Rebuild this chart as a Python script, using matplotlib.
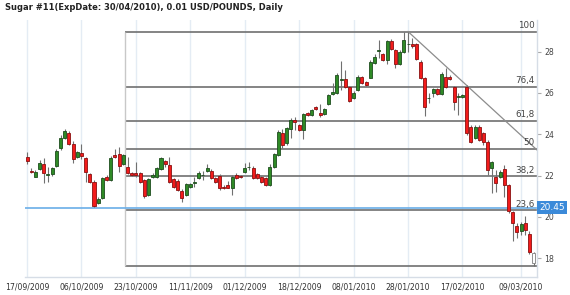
import numpy as np
import matplotlib
matplotlib.use("Agg")
import matplotlib.pyplot as plt
import matplotlib.transforms as mtransforms

## Données (Sugar #11, bougies journalières)

date_labels = ["17/09/2009", "06/10/2009", "23/10/2009", "11/11/2009", "01/12/2009",
               "18/12/2009", "08/01/2010", "28/01/2010", "17/02/2010", "09/03/2010"]
date_ticks = [0, 13, 26, 39, 52, 65, 78, 91, 104, 118]

opens = [
    22.89, 22.24, 21.95, 22.31, 22.56, 22.02, 22.07, 22.47, 23.32, 23.81,
    24.05, 23.53, 22.89, 23.11, 22.87, 22.07, 21.69, 20.69, 20.90, 21.95,
    21.79, 23.00, 23.05, 22.56, 22.43, 22.11, 22.14, 22.11, 21.79, 21.06,
    21.94, 21.92, 22.31, 22.72, 22.52, 21.82, 21.75, 21.27, 21.06, 21.47,
    21.63, 21.87, 22.02, 22.23, 22.23, 21.87, 22.00, 21.47, 21.55, 21.39,
    22.03, 21.98, 22.16, 22.40, 22.38, 22.07, 21.95, 21.87, 21.55, 22.43,
    23.00, 24.05, 23.57, 24.24, 24.69, 24.45, 24.21, 25.05, 24.94, 25.31,
    25.02, 24.98, 25.47, 25.94, 25.99, 26.63, 26.67, 26.28, 25.74, 26.15,
    26.76, 26.55, 26.74, 27.44, 28.03, 27.87, 27.60, 28.52, 28.08, 27.39,
    28.00, 28.36, 28.36, 28.36, 27.52, 26.71, 25.74, 26.02, 26.18, 25.95,
    26.79, 26.79, 26.28, 25.82, 25.79, 26.28, 24.37, 23.81, 24.37, 24.05,
    23.64, 22.36, 21.95, 21.95, 22.32, 21.55, 20.23, 19.55, 19.34, 19.69,
    19.16, 18.24]

highs = [
    23.13, 22.36, 22.26, 22.76, 22.84, 22.43, 22.42, 23.28, 23.97, 24.24,
    24.18, 23.65, 23.20, 23.53, 22.92, 22.14, 21.79, 20.95, 21.95, 22.05,
    22.93, 23.29, 23.39, 23.05, 22.92, 22.15, 22.68, 22.16, 21.85, 21.87,
    22.10, 22.42, 22.90, 22.76, 22.92, 21.88, 21.82, 21.33, 21.65, 21.65,
    21.95, 22.20, 22.22, 22.55, 22.30, 21.93, 22.07, 21.52, 21.74, 22.03,
    22.10, 22.05, 22.60, 22.68, 22.45, 22.13, 22.00, 21.92, 22.55, 23.10,
    24.21, 24.26, 24.35, 24.78, 24.82, 24.50, 25.05, 25.10, 25.23, 25.36,
    25.47, 25.27, 25.95, 26.47, 26.95, 27.56, 27.11, 26.33, 26.08, 26.87,
    26.82, 26.60, 27.60, 27.89, 28.57, 27.93, 28.58, 28.60, 28.13, 28.06,
    28.94, 28.97, 28.66, 28.42, 27.58, 26.77, 26.00, 26.24, 26.24, 27.00,
    27.20, 26.85, 26.33, 26.00, 25.96, 26.36, 24.45, 24.45, 24.45, 24.12,
    23.70, 22.70, 22.27, 22.25, 22.50, 21.60, 20.30, 19.70, 19.75, 20.05,
    19.30, 18.29]

lows = [
    22.56, 22.11, 21.92, 22.27, 21.66, 21.71, 22.00, 22.42, 23.24, 23.76,
    23.47, 22.60, 22.84, 22.79, 21.71, 21.63, 20.47, 20.60, 20.85, 21.72,
    21.74, 22.86, 22.18, 22.50, 22.08, 21.98, 21.95, 21.66, 20.92, 21.00,
    21.88, 21.88, 22.27, 22.43, 21.63, 21.38, 21.25, 20.74, 21.00, 21.42,
    21.47, 21.82, 21.79, 22.18, 21.82, 21.62, 21.31, 21.33, 21.38, 21.06,
    21.82, 21.88, 22.10, 22.27, 21.85, 21.85, 21.63, 21.50, 21.50, 22.38,
    22.95, 23.33, 23.50, 23.81, 24.21, 24.15, 23.77, 24.88, 24.90, 25.16,
    24.85, 24.93, 25.42, 25.90, 25.95, 26.15, 26.23, 25.58, 25.69, 26.10,
    26.45, 26.33, 26.70, 27.40, 27.69, 27.55, 27.39, 28.08, 27.21, 27.34,
    27.95, 27.99, 28.18, 27.58, 26.65, 24.89, 25.52, 25.81, 25.88, 25.90,
    26.26, 26.62, 25.18, 24.94, 25.74, 23.95, 23.58, 23.75, 23.65, 23.50,
    22.03, 21.15, 21.22, 21.90, 20.97, 20.17, 18.81, 18.98, 19.10, 19.12,
    18.20, 17.64]

closes = [
    22.72, 22.16, 22.19, 22.63, 22.14, 22.07, 22.36, 23.21, 23.81, 24.16,
    23.53, 22.79, 23.13, 22.95, 22.19, 21.69, 20.53, 20.87, 21.87, 21.79,
    22.87, 22.92, 22.47, 23.00, 22.11, 22.03, 22.02, 21.71, 21.02, 21.82,
    22.03, 22.36, 22.84, 22.56, 21.71, 21.44, 21.30, 20.90, 21.60, 21.58,
    21.71, 22.11, 22.04, 22.36, 21.87, 21.68, 21.39, 21.39, 21.42, 21.95,
    21.87, 21.93, 22.38, 22.42, 21.90, 21.90, 21.68, 21.55, 22.43, 23.03,
    24.13, 23.48, 24.29, 24.69, 24.61, 24.21, 24.98, 24.94, 25.18, 25.21,
    24.94, 25.21, 25.90, 26.06, 26.87, 26.65, 26.28, 25.63, 26.02, 26.76,
    26.50, 26.39, 27.52, 27.76, 28.05, 27.60, 28.52, 28.13, 27.39, 28.00,
    28.57, 28.38, 28.28, 27.63, 26.71, 25.34, 25.76, 26.18, 25.94, 26.92,
    26.31, 26.68, 25.58, 25.84, 25.90, 24.05, 23.64, 24.37, 23.73, 23.64,
    22.27, 22.65, 21.63, 22.19, 21.55, 20.29, 19.70, 19.26, 19.65, 19.37,
    18.29, 17.76]

# Fibonacci (du plus haut au plus bas)
fib_high = 28.97
fib_low = 17.64
fib_start = 23.4
fib_pcts = [0, 23.6, 38.2, 50, 61.8, 76.4, 100]
fib_labels = ["", "23,6", "38,2", "50", "61,8", "76,4", "100"]

# ligne de tendance (du sommet vers la droite)
trend_x = [91, 121.8]
trend_y = [28.97, 23.24]

dernier_prix = 20.45

y_ticks = [18, 20, 22, 24, 26, 28]

## Figure

fig = plt.figure(figsize=(5.7, 2.95), dpi=100)
fig.patch.set_facecolor("white")
ax = fig.add_axes([25/570, 1 - 277/295, 512/570, 257/295])

n = len(opens)
x = np.arange(n)
o = np.array(opens)
c = np.array(closes)

# grille verticale
for t in date_ticks:
    ax.axvline(t, color="#e4ecf4", lw=1, zorder=0)

# niveaux de Fibonacci
for p, lab in zip(fib_pcts, fib_labels):
    lvl = fib_low + p / 100 * (fib_high - fib_low)
    ax.hlines(lvl, fib_start, 121.8, color="#707070", lw=1.2, zorder=1)
    if lab:
        ax.text(121.3, lvl + 0.08, lab, ha="right", va="bottom", fontsize=6.3,
                color="#444444", zorder=5)
ax.vlines(fib_start, fib_low, fib_high, color="#c8c8c8", lw=1, zorder=1)

# dernier prix
ax.axhline(dernier_prix, color="#6aaee8", lw=1.2, zorder=2)
trans = mtransforms.blended_transform_factory(ax.transAxes, ax.transData)
ax.text(1.004, dernier_prix, "20.45", transform=trans, ha="left", va="center",
        fontsize=6.5, color="white", zorder=6, clip_on=False,
        bbox=dict(boxstyle="square,pad=0.25", fc="#3b8ad9", ec="none"))

# ligne de tendance
ax.plot(trend_x, trend_y, color="#8c8c8c", lw=0.9, zorder=3)

# bougies
ax.vlines(x, lows, highs, color="#707070", lw=0.8, zorder=3)
up = c >= o
face = np.where(up, "#2f8a26", "#f21b1b").astype(object)
edge = np.where(up, "#1d4d1d", "#8a1010").astype(object)
face[-1] = "white"
edge[-1] = "#808080"
height = np.maximum(np.abs(c - o), 0.03)
ax.bar(x, height, bottom=np.minimum(o, c), width=0.72, color=list(face),
       edgecolor=list(edge), linewidth=0.6, zorder=4)

# axes
ax.set_xlim(-0.48, 121.8)
ax.set_ylim(17.09, 29.53)
ax.set_xticks(date_ticks)
ax.set_xticklabels(date_labels)
ax.set_yticks(y_ticks)
ax.yaxis.tick_right()
ax.tick_params(axis="x", length=0, pad=4, labelsize=5.6, colors="#333333")
ax.tick_params(axis="y", length=3, width=0.8, color="#aaaaaa", pad=2,
               labelsize=5.6, labelcolor="#444444")
for s in ["top", "left"]:
    ax.spines[s].set_visible(False)
for s in ["right", "bottom"]:
    ax.spines[s].set_color("#d6dde6")
    ax.spines[s].set_linewidth(1)

fig.text(5/570, 1 - 8/295, "Sugar #11(ExpDate: 30/04/2010), 0.01 USD/POUNDS, Daily",
         ha="left", va="center", fontsize=6.0, fontweight="bold", color="#222222")

fig.savefig("out.png", dpi=100)
